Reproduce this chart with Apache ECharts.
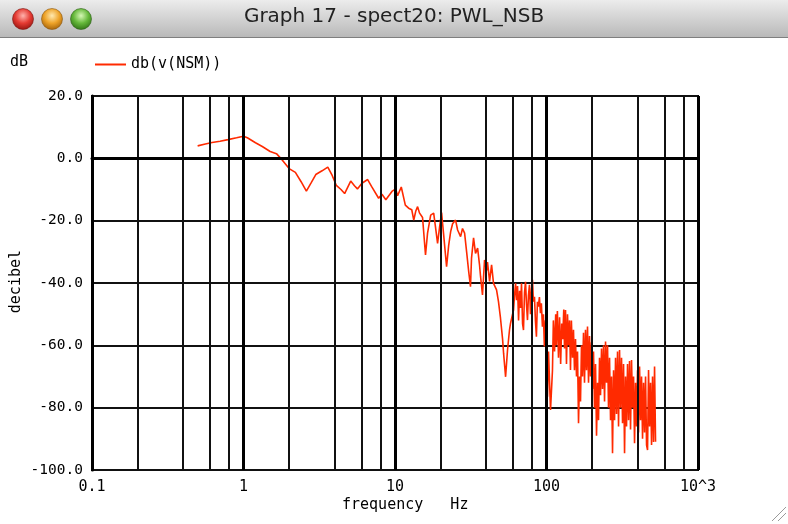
<!DOCTYPE html>
<html>
<head>
<meta charset="utf-8">
<title>Graph 17 - spect20: PWL_NSB</title>
<script src="https://cdn.jsdelivr.net/npm/echarts@6/dist/echarts.min.js"></script>
<style>
  html, body { margin: 0; padding: 0; background: #fff; }
  #chart { width: 788px; height: 524px; }
</style>
</head>
<body>
<div id="chart"></div>
<script>
// values: frequency in Hz, level in dB
var freq = [
  0.498, 0.56, 0.62, 0.70, 0.79, 0.90, 1.00, 1.06, 1.2, 1.33, 1.5, 1.65, 1.8, 2.0, 2.2, 2.4, 2.6, 2.8, 3.0, 3.3,
  3.6, 3.85, 4.1, 4.4, 4.65, 5.1, 5.4, 5.65, 6.05, 6.6, 7.0, 7.8, 8.2, 8.7, 9.6, 10.1, 10.4, 11.0,
  11.7, 12.3, 12.9, 13.3, 13.7, 14.1, 14.5, 15.2, 15.9, 16.4, 17.2, 18.0, 18.5, 19.1, 19.7, 20.3, 20.9, 21.9,
  22.6, 23.3, 24.0, 25.1, 25.9, 27.1, 27.9, 28.8, 29.7, 30.6, 31.5,
  32.0, 33.0, 34.0, 35.1, 36.1, 36.7, 37.8, 39.0, 40.2, 40.8, 42.1, 43.4, 44.7, 46.8, 48.2, 49.7, 51.3, 52.1,
  53.7, 55.3, 57.0, 57.9, 59.7, 60.6, 61.5, 62.5, 63.4, 64.4, 65.4, 66.4, 67.4, 68.4, 69.5, 70.5, 71.6, 72.7,
  73.8, 74.9, 76.0, 77.2, 78.4, 79.6, 80.8, 82.0, 83.3, 84.5, 85.8, 87.1, 88.4, 89.8, 91.2, 92.5, 94.0, 95.4,
  96.8, 98.3, 101.5, 103.1, 106.3, 109.5,
  111, 113, 115, 116, 118, 120, 122, 124, 126, 128, 130, 131.5, 133.5, 135.5, 137.6, 139.7, 141.9, 144, 146,
  148.5, 150.7, 153, 155.4, 157.8, 160.2, 162.7, 165.2, 167.7, 170.2, 172.8, 175.5, 178.2, 180.9, 183.7,
  186.5, 189.4, 192.3, 195.2, 198.2, 201.2, 204.3, 207.5, 210.7, 213.9, 217.2, 220.5, 223.9, 227.3, 230.8,
  234.3, 237.9, 241.6, 245.3, 249, 252.8, 256.7, 260.7, 264.7, 268.7, 272.8, 277, 281.3, 285.6, 289.9,
  294.4, 298.9, 303.5, 308.1, 312.8, 317.6, 322.5, 327.5, 332.5, 337.5, 342.7, 348, 353.3, 358.7, 364.2,
  369.8, 375.5, 381.2, 387.1, 393, 399, 405.1, 411.3, 417.6, 424, 430.5, 437.1, 443.8, 450.6, 457.5, 464.5,
  471.6, 478.8, 486.2, 493.7, 501.2, 508.9, 516.7, 524.6
];
var dbNSM = [
  4.0, 4.6, 5.1, 5.5, 6.0, 6.6, 7.1, 6.6, 5.0, 3.8, 2.2, 1.5, -0.5, -3.3, -4.5, -7.5, -10.5, -7.8, -5.2, -4.0,
  -2.8, -5.5, -8.7, -10.0, -11.3, -7.3, -8.8, -9.8, -8.0, -6.8, -9.0, -12.8, -11.5, -13.3, -10.5, -9.8, -12.0, -9.2,
  -15.0, -16.0, -16.5, -19.8, -17.0, -15.5, -17.5, -19.0, -31.0, -24.0, -18.2, -17.6, -22.0, -27.3, -22.0, -17.4, -24.0, -34.8,
  -28.0, -23.5, -21.0, -19.8, -23.0, -25.1, -22.5, -24.0, -30.0, -36.0, -41.2,
  -32.0, -25.5, -30.5, -28.8, -34.0, -37.9, -43.8, -32.6, -36.0, -33.3, -39.5, -34.2, -40.1, -42.2, -46.0, -51.3, -58.0, -62.6,
  -70.1, -61.5, -55.0, -52.9, -50.0, -48.7, -44.0, -40.1, -45.5, -41.0, -52.0, -42.5, -48.0, -40.1, -53.0, -55.1, -43.0, -39.6,
  -47.0, -51.9, -44.0, -40.6, -50.0, -42.0, -39.0, -46.0, -44.4, -52.0, -57.2, -46.0, -47.6, -44.5, -49.7, -46.5, -54.0, -50.0,
  -60.4, -52.0, -76.5, -62.0, -80.7, -68.0,
  -52, -62, -50, -60, -49, -64, -51, -66, -53, -58, -48.5, -61, -48.7, -66, -50, -60, -52, -67.9, -52,
  -64, -55, -68, -58, -70, -62, -85, -70, -78, -60, -70, -56, -72, -55, -68,
  -54, -72, -57, -70, -59, -74, -62, -80, -66, -89, -72, -84, -64, -76, -61,
  -74, -60, -78, -58.8, -72, -60, -80, -64, -84, -70, -94.6, -68, -84, -64, -82,
  -62, -86, -61.5, -80, -64, -85, -66, -94.6, -70, -86, -66, -84, -65, -87, -64.7,
  -80, -70, -91.4, -72, -86, -68, -88, -66.8, -84, -70, -90, -72, -88, -70, -92, -93.6,
  -67.9, -86, -72, -92, -70, -91, -66.8, -90.9
];
var xTickLabels = ['0.1', '1', '10', '100', '10^3'];
var minorGridFreqs = [0.2, 0.4, 0.6, 0.8, 2, 4, 6, 8, 20, 40, 60, 80, 200, 400, 600, 800];

var mono = 'DejaVu Sans Mono';
var chart = echarts.init(document.getElementById('chart'), null, { renderer: 'canvas' });

var points = freq.map(function (f, i) { return [f, dbNSM[i]]; });
var gridMarks = minorGridFreqs.map(function (f) { return { xAxis: f }; });
gridMarks.push({ yAxis: 0, lineStyle: { width: 3, color: '#000' } });

var option = {
  backgroundColor: '#fff',
  animation: false,
  grid: {
    left: 92, top: 96, width: 606, height: 374,
    show: true, borderColor: '#000', borderWidth: 2, backgroundColor: 'transparent'
  },
  legend: {
    left: 90, top: 52,
    itemWidth: 31, itemHeight: 2, itemGap: 8,
    data: [{ name: 'db(v(NSM))', icon: 'rect' }],
    textStyle: { fontFamily: mono, fontSize: 15, color: '#000' }
  },
  xAxis: {
    type: 'log', logBase: 10, min: 0.1, max: 1000, z: 5,
    axisLine: { show: true, lineStyle: { color: '#000', width: 3 } },
    axisTick: { show: false },
    axisLabel: {
      margin: 10, color: '#000', fontFamily: mono, fontSize: 15,
      formatter: function (v) { return xTickLabels[Math.round(Math.log10(v)) + 1]; }
    },
    splitLine: { show: true, lineStyle: { color: '#000', width: 3 } }
  },
  yAxis: {
    type: 'value', min: -100, max: 20, interval: 20,
    axisLine: { show: true, lineStyle: { color: '#000', width: 3 } },
    axisTick: { show: false },
    axisLabel: {
      margin: 9, color: '#000', fontFamily: mono, fontSize: 14.5,
      formatter: function (v) { return v.toFixed(1); }
    },
    splitLine: { show: true, lineStyle: { color: '#111', width: 2 } }
  },
  graphic: [
    {
      type: 'rect', left: 0, top: 0, z: 10,
      shape: { width: 788, height: 37 },
      style: {
        fill: new echarts.graphic.LinearGradient(0, 0, 0, 1, [
          { offset: 0, color: '#ececec' }, { offset: 1, color: '#b9b9b9' }
        ])
      }
    },
    { type: 'line', z: 10, shape: { x1: 0, y1: 37.5, x2: 788, y2: 37.5 }, style: { stroke: '#7f7f7f', lineWidth: 1 } },
    {
      type: 'circle', z: 11, shape: { cx: 23, cy: 19, r: 10.5 },
      style: {
        fill: new echarts.graphic.RadialGradient(0.5, 0.35, 0.7, [
          { offset: 0, color: '#ffb3ad' }, { offset: 0.5, color: '#e53b33' }, { offset: 1, color: '#8c100c' }
        ]), stroke: '#7a1a14', lineWidth: 0.6
      }
    },
    {
      type: 'circle', z: 11, shape: { cx: 52, cy: 19, r: 10.5 },
      style: {
        fill: new echarts.graphic.RadialGradient(0.5, 0.35, 0.7, [
          { offset: 0, color: '#ffe9b0' }, { offset: 0.5, color: '#eea328' }, { offset: 1, color: '#9a5a06' }
        ]), stroke: '#8a5510', lineWidth: 0.6
      }
    },
    {
      type: 'circle', z: 11, shape: { cx: 81, cy: 19, r: 10.5 },
      style: {
        fill: new echarts.graphic.RadialGradient(0.5, 0.35, 0.7, [
          { offset: 0, color: '#d6f7b5' }, { offset: 0.5, color: '#65b83a' }, { offset: 1, color: '#2a6b12' }
        ]), stroke: '#2e6018', lineWidth: 0.6
      }
    },
    {
      type: 'text', z: 11, left: 'center', top: 7,
      style: { text: 'Graph 17 - spect20: PWL_NSB', font: '20px "DejaVu Sans"', fill: '#222' }
    },
    {
      type: 'text', left: 10, top: 55,
      style: { text: 'dB', font: '15px "DejaVu Sans Mono"', fill: '#000' }
    },
    {
      type: 'text', left: 9, top: 250, rotation: Math.PI / 2, origin: [0, 0],
      style: { text: 'decibel', font: '15px "DejaVu Sans Mono"', fill: '#000', textAlign: 'center', textVerticalAlign: 'top' }
    },
    {
      type: 'text', left: 342, top: 498,
      style: { text: 'frequency   Hz', font: '15px "DejaVu Sans Mono"', fill: '#000' }
    },
    { type: 'line', shape: { x1: 772, y1: 521, x2: 786, y2: 507 }, style: { stroke: '#9a9a9a', lineWidth: 1 } },
    { type: 'line', shape: { x1: 778, y1: 521, x2: 786, y2: 513 }, style: { stroke: '#9a9a9a', lineWidth: 1 } }
  ],
  series: [
    {
      name: 'db(v(NSM))',
      type: 'line',
      data: points,
      showSymbol: false,
      symbol: 'none',
      color: '#ff2a00',
      lineStyle: { color: '#ff2a00', width: 1.6 },
      silent: true,
      markLine: {
        silent: true,
        symbol: 'none',
        label: { show: false },
        lineStyle: { color: '#111', width: 2, type: 'solid' },
        data: gridMarks
      }
    }
  ]
};
chart.setOption(option);
</script>
</body>
</html>
